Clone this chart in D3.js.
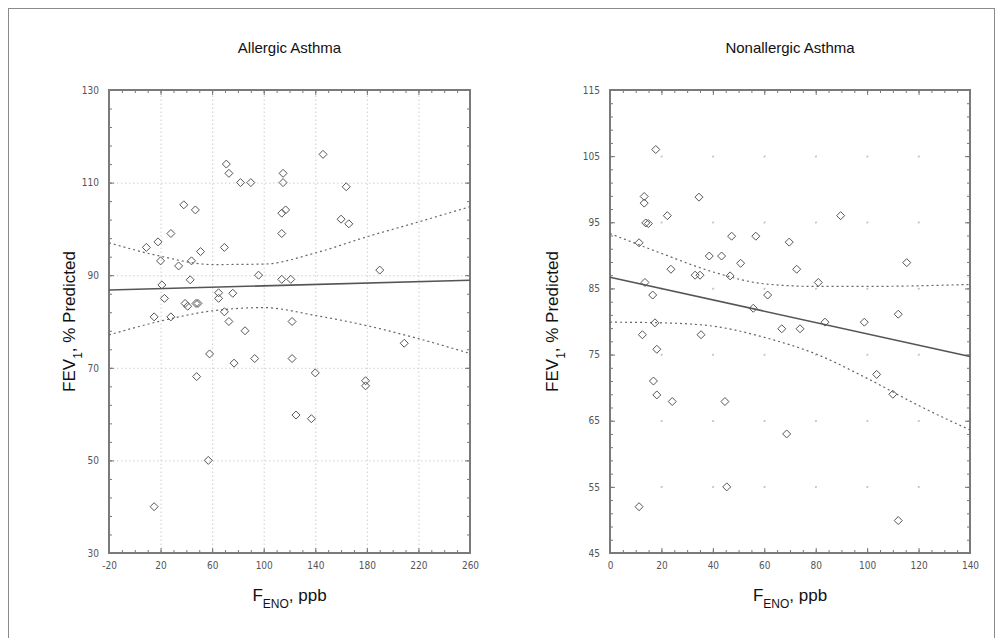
<!DOCTYPE html>
<html><head><meta charset="utf-8">
<script src="https://cdn.jsdelivr.net/npm/d3@7"></script>
<style>
body{margin:0;background:#fff;}
text{font-family:"Liberation Sans",Arial,sans-serif;}
</style>
</head><body>
<svg id="chart" width="1003" height="638"></svg>
<script>
// ---------- Allergic Asthma ----------
const allergicFeno = [71,73,82,90,115,115,38,47,114,117,114,28,18,9,51,69.5,20,44,34,96,43,114,121,21,23,65,65,76,39,41,47.5,49,69.5,15,28,73,85.5,58,77,93,48,57,15,122,146,164,160,166,190,122,140,179,179,209,125,137];
const allergicFev  = [114,112,110,110,112,110,105.2,104.1,103.4,104.1,99,99,97.2,96,95.1,96,93.1,93.1,92,90,89,89.1,89.1,87.9,85,86.2,85,86.1,83.9,83.3,83.9,83.9,82.1,81,81,80,78,73,71,72,68.1,50,40,72,116.1,109.1,102.1,101.1,91.1,80,68.9,67.2,66.1,75.3,59.8,59];
const allergicFitX = [-20, 260];
const allergicFit  = [86.8, 88.9];
const allergicBandX = [-20, 20, 60, 100, 140, 180, 220, 260];
const allergicUpper = [97.0, 94.1, 92.3, 92.4, 94.8, 98.3, 101.5, 104.8];
const allergicLower = [77.1, 80.1, 82.3, 83.0, 81.3, 79.1, 76.3, 73.1];
const allergicXTicks = [-20, 20, 60, 100, 140, 180, 220, 260];
const allergicYTicks = [30, 50, 70, 90, 110, 130];

// ---------- Nonallergic Asthma ----------
const nonallergicFeno = [17.8,13.3,13.3,34.6,22.3,13.9,14.9,47.3,56.7,11.3,38.6,43.4,50.8,23.7,33.1,35.0,46.7,13.6,16.6,61.3,55.7,17.5,12.6,35.4,18.2,16.9,18.2,24.2,44.7,45.4,11.3,89.7,69.7,72.6,81.0,115.4,112.1,98.9,83.6,66.8,73.9,103.7,110.0,68.7,112.1];
const nonallergicFev  = [106,98.9,97.9,98.8,96,94.9,94.8,92.9,92.9,91.9,89.9,89.9,88.8,87.9,87,87,86.9,85.9,84,84,82,79.8,78,78,75.8,71,68.9,67.9,67.9,55,52,96,92,87.9,85.9,88.9,81.1,79.9,79.9,78.9,78.9,72,69,63,49.9];
const nonallergicFitX = [0, 140];
const nonallergicFit  = [86.7, 74.7];
const nonallergicBandX = [0, 20, 40, 60, 80, 100, 120, 140];
const nonallergicUpper = [93.3, 90.3, 87.5, 85.7, 85.3, 85.3, 85.4, 85.6];
const nonallergicLower = [79.9, 79.8, 79.3, 77.6, 75.1, 71.4, 67.3, 63.6];
const nonallergicXTicks = [0, 20, 40, 60, 80, 100, 120, 140];
const nonallergicYTicks = [45, 55, 65, 75, 85, 95, 105, 115];

const titles = ["Allergic Asthma", "Nonallergic Asthma"];

const svg = d3.select("#chart");

// outer frame
svg.append("rect").attr("x", 8.5).attr("y", 8.5).attr("width", 986).attr("height", 640)
  .attr("fill", "none").attr("stroke", "#8a8a8a").attr("stroke-width", 1);

function panel(cfg) {
  const x = d3.scaleLinear().domain(cfg.xDomain).range([cfg.x0, cfg.x1]);
  const y = d3.scaleLinear().domain(cfg.yDomain).range([cfg.y1, cfg.y0]);
  const W = cfg.x1 - cfg.x0, H = cfg.y1 - cfg.y0;
  const g = svg.append("g");

  // gridlines
  const gx = g.append("g").attr("transform", `translate(0,${cfg.y1})`)
    .call(d3.axisBottom(x).tickValues(cfg.xTicks).tickSize(-H).tickFormat(""));
  const gy = g.append("g").attr("transform", `translate(${cfg.x0},0)`)
    .call(d3.axisLeft(y).tickValues(cfg.yTicks).tickSize(-W).tickFormat(""));
  [gx, gy].forEach(a => a.select(".domain").remove());
  if (cfg.sparseGrid) {
    const py = Math.abs(y(cfg.yTicks[1]) - y(cfg.yTicks[0]));
    const px = Math.abs(x(cfg.xTicks[1]) - x(cfg.xTicks[0]));
    gx.selectAll("line").attr("stroke", "#c4c4c4").attr("stroke-width", 1.5)
      .attr("stroke-dasharray", `1.5,${py - 1.5}`).attr("stroke-dashoffset", 0.75);
    gy.selectAll("line").attr("stroke", "#c4c4c4").attr("stroke-width", 1.5)
      .attr("stroke-dasharray", `1.5,${px - 1.5}`).attr("stroke-dashoffset", 0.75);
  } else {
    [gx, gy].forEach(a => a.selectAll("line").attr("stroke", "#cfcfcf")
      .attr("stroke-width", 1).attr("stroke-dasharray", "1.5,2.5"));
  }

  // ticks on all four sides (inward)
  const minorX = d3.range(cfg.xDomain[0], cfg.xDomain[1] + 1e-9, cfg.xMinor);
  const minorY = d3.range(cfg.yDomain[0], cfg.yDomain[1] + 1e-9, cfg.yMinor);
  const tickAxes = [
    [d3.axisBottom(x).tickValues(minorX).tickSize(-3), `translate(0,${cfg.y1})`],
    [d3.axisTop(x).tickValues(minorX).tickSize(-3), `translate(0,${cfg.y0})`],
    [d3.axisLeft(y).tickValues(minorY).tickSize(-3), `translate(${cfg.x0},0)`],
    [d3.axisRight(y).tickValues(minorY).tickSize(-3), `translate(${cfg.x1},0)`],
    [d3.axisTop(x).tickValues(cfg.xTicks).tickSize(-5), `translate(0,${cfg.y0})`],
    [d3.axisRight(y).tickValues(cfg.yTicks).tickSize(-5), `translate(${cfg.x1},0)`]
  ];
  tickAxes.forEach(([ax, tr]) => {
    const a = g.append("g").attr("transform", tr).call(ax.tickFormat(""));
    a.select(".domain").remove();
    a.selectAll("line").attr("stroke", "#777").attr("stroke-width", 1);
  });

  // labelled axes
  const fmt = d => String(d);
  const bx = g.append("g").attr("transform", `translate(0,${cfg.y1})`)
    .call(d3.axisBottom(x).tickValues(cfg.xTicks).tickSize(-5).tickPadding(9).tickFormat(fmt));
  const ly = g.append("g").attr("transform", `translate(${cfg.x0},0)`)
    .call(d3.axisLeft(y).tickValues(cfg.yTicks).tickSize(-5).tickPadding(10).tickFormat(fmt));
  [bx, ly].forEach(a => {
    a.select(".domain").remove();
    a.selectAll("line").attr("stroke", "#777");
    a.selectAll("text").attr("fill", "#555").style("font-size", "10px")
      .style("font-family", "'DejaVu Sans Condensed','Liberation Sans',sans-serif");
  });

  // frame
  g.append("rect").attr("x", cfg.x0).attr("y", cfg.y0).attr("width", W).attr("height", H)
    .attr("fill", "none").attr("stroke", "#7a7a7a").attr("stroke-width", 2);

  // confidence bands
  const line = d3.line().x(d => x(d[0])).y(d => y(d[1])).curve(d3.curveMonotoneX);
  [cfg.upper, cfg.lower].forEach(arr => {
    g.append("path").datum(cfg.bandX.map((v, i) => [v, arr[i]]))
      .attr("d", line).attr("fill", "none").attr("stroke", "#666")
      .attr("stroke-width", 1.2).attr("stroke-dasharray", "2,3");
  });
  // regression line
  g.append("path").datum(cfg.fitX.map((v, i) => [v, cfg.fit[i]]))
    .attr("d", d3.line().x(d => x(d[0])).y(d => y(d[1])))
    .attr("fill", "none").attr("stroke", "#555").attr("stroke-width", 1.6);

  // points
  g.append("g").selectAll("path").data(cfg.px.map((v, i) => [v, cfg.py[i]])).join("path")
    .attr("transform", d => `translate(${x(d[0])},${y(d[1])})`)
    .attr("d", "M0,-4L4,0L0,4L-4,0Z")
    .attr("fill", "none").attr("stroke", "#555").attr("stroke-width", 1);

  // title
  svg.append("text").attr("x", (cfg.x0 + cfg.x1) / 2).attr("y", 53)
    .attr("text-anchor", "middle").style("font-size", "15px").attr("fill", "#111").text(cfg.title);

  // y label
  const yl = svg.append("text").attr("transform", `translate(${cfg.yLabelX},${(cfg.y0 + cfg.y1) / 2}) rotate(-90)`)
    .attr("text-anchor", "middle").style("font-size", "17px").attr("fill", "#111");
  yl.append("tspan").text("FEV");
  yl.append("tspan").attr("baseline-shift", "sub").style("font-size", "12px").text("1");
  yl.append("tspan").text(", % Predicted");

  // x label
  const xl = svg.append("text").attr("x", (cfg.x0 + cfg.x1) / 2).attr("y", 601)
    .attr("text-anchor", "middle").style("font-size", "17px").attr("fill", "#111");
  xl.append("tspan").text("F");
  xl.append("tspan").attr("baseline-shift", "sub").style("font-size", "12px").text("ENO");
  xl.append("tspan").text(", ppb");
}

panel({
  title: titles[0], x0: 109, x1: 470, y0: 90, y1: 553, yLabelX: 75,
  xDomain: [-20, 260], yDomain: [30, 130], xTicks: allergicXTicks, yTicks: allergicYTicks,
  xMinor: 10, yMinor: 4, sparseGrid: false,
  px: allergicFeno, py: allergicFev, fitX: allergicFitX, fit: allergicFit,
  bandX: allergicBandX, upper: allergicUpper, lower: allergicLower
});
panel({
  title: titles[1], x0: 610, x1: 970, y0: 90, y1: 553, yLabelX: 558,
  xDomain: [0, 140], yDomain: [45, 115], xTicks: nonallergicXTicks, yTicks: nonallergicYTicks,
  xMinor: 5, yMinor: 2, sparseGrid: true,
  px: nonallergicFeno, py: nonallergicFev, fitX: nonallergicFitX, fit: nonallergicFit,
  bandX: nonallergicBandX, upper: nonallergicUpper, lower: nonallergicLower
});
</script>
</body></html>
